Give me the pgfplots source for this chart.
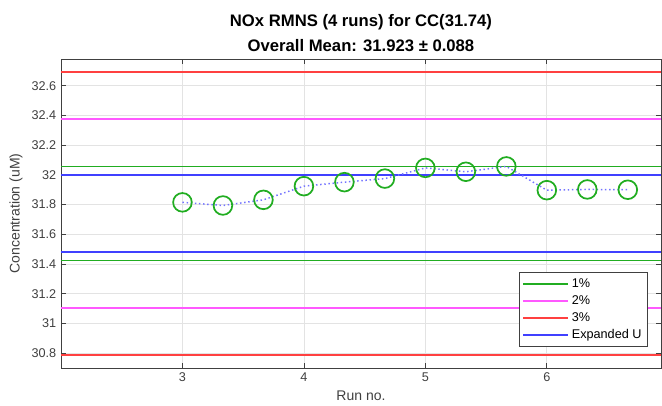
\documentclass[border=0pt]{standalone}
\usepackage{pgfplots}
\pgfplotsset{compat=1.18}
\usepackage{fontspec}
\setmainfont{Liberation Sans}
\definecolor{mgreen}{rgb}{0.13,0.68,0.13}
\definecolor{mmag}{rgb}{1,0.35,1}
\definecolor{mred}{rgb}{1,0.25,0.25}
\definecolor{mblue}{rgb}{0.25,0.25,1}
\definecolor{axgray}{rgb}{0.25,0.25,0.25}
\begin{document}
\begin{tikzpicture}
\useasboundingbox (-45.75pt,-27.75pt) rectangle (450.75pt,276pt);
\begin{axis}[
    scale only axis,
    width=450pt, height=231.75pt,
    xmin=2, xmax=6.94,
    ymin=30.7, ymax=32.78,
    xtick={3,4,5,6},
    ytick={30.8,31,31.2,31.4,31.6,31.8,32,32.2,32.4,32.6},
    yticklabel style={/pgf/number format/fixed},
    /pgf/number format/assume math mode=true,
    ticklabel style={font=\fontsize{9.5}{11}\selectfont, text=axgray},
    label style={font=\fontsize{10.5}{12}\selectfont, text=axgray},
    xlabel={Run no.},
    ylabel={Concentration (uM)},
    title={NOx RMNS (4 runs) for CC(31.74)\\Overall Mean: 31.923 ± 0.088},
    title style={font=\bfseries\fontsize{12.5}{19}\selectfont, align=center, yshift=-4pt},
    grid=major,
    major grid style={gray!22, line width=0.5pt},
    axis line style={axgray, line width=0.6pt},
    tick style={axgray, line width=0.5pt},
    major tick length=3.5pt,
    legend style={at={(0.978,0.068)}, anchor=south east, draw=axgray,
        font=\fontsize{9.5}{11}\selectfont, row sep=0.6pt, inner sep=2.5pt},
    legend cell align=left,
    legend image code/.code={\draw[#1] (0pt,0pt) -- (34pt,0pt);},
]
\addlegendimage{mgreen, line width=1.1pt}
\addlegendentry{1\%}
\addlegendimage{mmag, line width=1.1pt}
\addlegendentry{2\%}
\addlegendimage{mred, line width=1.1pt}
\addlegendentry{3\%}
\addlegendimage{mblue, line width=1.1pt}
\addlegendentry{Expanded U}
\addplot[mgreen, line width=1.1pt, forget plot] coordinates {(2,32.057) (6.94,32.057)};
\addplot[mmag, line width=1.1pt, forget plot] coordinates {(2,32.375) (6.94,32.375)};
\addplot[mred, line width=1.1pt, forget plot] coordinates {(2,32.692) (6.94,32.692)};
\addplot[mblue, line width=1.1pt, forget plot] coordinates {(2,32.0) (6.94,32.0)};
\addplot[mgreen, line width=1.1pt, forget plot] coordinates {(2,31.423) (6.94,31.423)};
\addplot[mmag, line width=1.1pt, forget plot] coordinates {(2,31.105) (6.94,31.105)};
\addplot[mred, line width=1.1pt, forget plot] coordinates {(2,30.788) (6.94,30.788)};
\addplot[mblue, line width=1.1pt, forget plot] coordinates {(2,31.48) (6.94,31.48)};
\addplot[blue!55, line width=1.1pt, dotted, forget plot] coordinates {
    (3,31.815) (3.3333,31.794) (3.6667,31.832) (4,31.924)
    (4.3333,31.951) (4.6667,31.975) (5,32.047) (5.3333,32.021)
    (5.6667,32.057) (6,31.897) (6.3333,31.902) (6.6667,31.900)
};
\addplot[only marks, mark=o, mark size=7pt, mgreen, mark options={line width=1.3pt}, forget plot] coordinates {
    (3,31.815) (3.3333,31.794) (3.6667,31.832) (4,31.924)
    (4.3333,31.951) (4.6667,31.975) (5,32.047) (5.3333,32.021)
    (5.6667,32.057) (6,31.897) (6.3333,31.902) (6.6667,31.900)
};
\end{axis}
\end{tikzpicture}
\end{document}
